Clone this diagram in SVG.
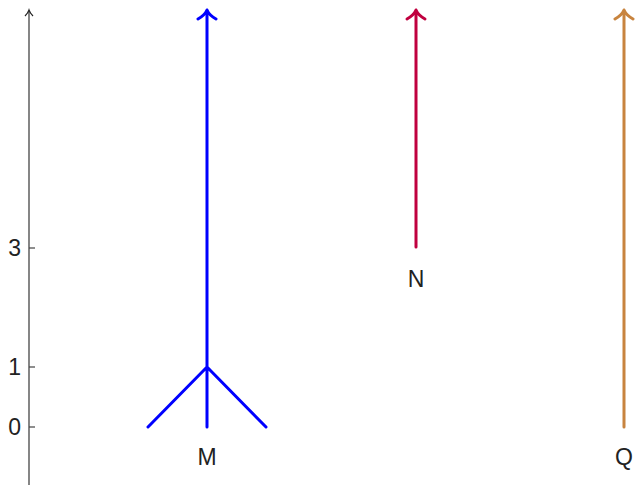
<svg xmlns="http://www.w3.org/2000/svg" width="635" height="485" viewBox="0 0 635 485">
<style>
text{font-family:"Liberation Sans","Noto Sans",sans-serif;font-size:23px;fill:#222}
.lbl{text-anchor:middle}
.tick{text-anchor:end}
.ln{fill:none;stroke-width:3;stroke-linecap:round;stroke-linejoin:round}
</style>
<rect width="635" height="485" fill="#fff"/>
<g id="axis">
<line x1="29" y1="485" x2="29" y2="11" stroke="#444" stroke-width="1.3"/>
<path d="M25,16 Q28,13 29,10 Q30,13 33,16" fill="none" stroke="#222" stroke-width="1.2"/>
<line x1="29" y1="248" x2="35" y2="248" stroke="#444" stroke-width="1.2"/>
<line x1="29" y1="367" x2="35" y2="367" stroke="#444" stroke-width="1.2"/>
<line x1="29" y1="427" x2="35" y2="427" stroke="#444" stroke-width="1.2"/>
<text class="tick" x="21" y="256">3</text>
<text class="tick" x="21" y="375">1</text>
<text class="tick" x="21" y="435">0</text>
</g>
<g id="M">
<path class="ln" stroke="#0000ff" d="M207,427 L207,12 M198,19 Q205,15 207,10 Q209,15 216,19 M148,427 L207,367 L266,427"/>
<text class="lbl" x="207" y="465">M</text>
</g>
<g id="N">
<path class="ln" stroke="#c0003f" d="M416,247 L416,12 M407,19 Q414,15 416,10 Q418,15 425,19"/>
<text class="lbl" x="416" y="287">N</text>
</g>
<g id="Q">
<path class="ln" stroke="#c8843f" d="M624,427 L624,12 M615,19 Q622,15 624,10 Q626,15 633,19"/>
<text class="lbl" x="624" y="465">Q</text>
</g>
</svg>
